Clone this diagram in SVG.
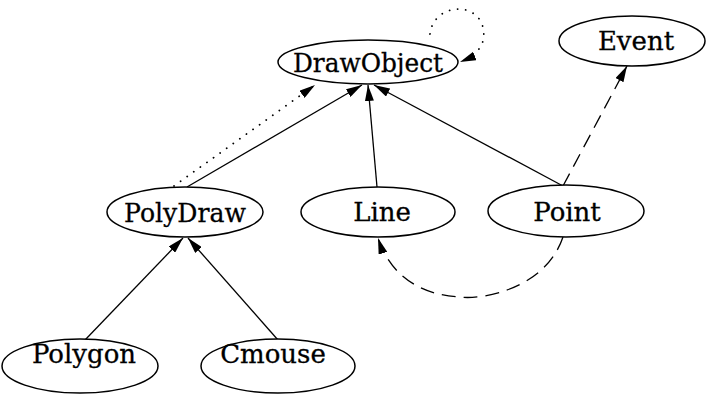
<svg xmlns="http://www.w3.org/2000/svg" width="707" height="395" viewBox="0 0 707 395">
  <style>
    .node ellipse { fill: #fff; stroke: #000; stroke-width: 1.5; }
    .node text { font-family: "DejaVu Serif", "Liberation Serif", serif; font-size: 26px; fill: #000; stroke: #000; stroke-width: 0.3; text-anchor: middle; }
    .edge { fill: none; stroke: #000; stroke-width: 1.3; }
    .dash { stroke-dasharray: 14 8; }
    .dot { stroke-dasharray: 0.1 8; stroke-linecap: round; stroke-width: 1.8; }
  </style>
  <defs>
    <marker id="arrow" viewBox="0 0 16 9" refX="16" refY="4.5" markerWidth="16" markerHeight="9" markerUnits="userSpaceOnUse" orient="auto">
      <path d="M0,0 L16,4.5 L0,9 Z" fill="#000"/>
    </marker>
  </defs>

  <g id="connectors">
    <!-- inheritance edges -->
    <line class="edge" x1="187" y1="187" x2="362" y2="85" marker-end="url(#arrow)"/>
    <line class="edge" x1="377" y1="187" x2="368" y2="85" marker-end="url(#arrow)"/>
    <line class="edge" x1="563" y1="186" x2="374" y2="85" marker-end="url(#arrow)"/>
    <line class="edge" x1="85" y1="340" x2="183" y2="238" marker-end="url(#arrow)"/>
    <line class="edge" x1="278" y1="340" x2="188" y2="238" marker-end="url(#arrow)"/>
    <!-- dotted uses -->
    <line class="edge dot" x1="174" y1="186" x2="315" y2="85" marker-end="url(#arrow)"/>
    <path class="edge dot" d="M430,34 C433,6 472,0 482,24 C487,40 482,53 460,62" marker-end="url(#arrow)"/>
    <!-- dashed references -->
    <line class="edge dash" x1="563" y1="186" x2="627" y2="66" marker-end="url(#arrow)"/>
    <path class="edge dash" d="M563,237 C545,290 480,300 460,297 C420,295 390,275 378,238" marker-end="url(#arrow)"/>
  </g>

  <g id="DrawObject" class="node">
    <ellipse cx="368" cy="62" rx="90" ry="22"/>
    <text x="368" y="72" textLength="150" lengthAdjust="spacingAndGlyphs">DrawObject</text>
  </g>
  <g id="Event" class="node">
    <ellipse cx="632" cy="41" rx="73" ry="25"/>
    <text x="636" y="50">Event</text>
  </g>
  <g id="PolyDraw" class="node">
    <ellipse cx="185" cy="212" rx="78" ry="25"/>
    <text x="185" y="222" textLength="122" lengthAdjust="spacingAndGlyphs">PolyDraw</text>
  </g>
  <g id="Line" class="node">
    <ellipse cx="378" cy="212" rx="77" ry="25"/>
    <text x="382" y="221">Line</text>
  </g>
  <g id="Point" class="node">
    <ellipse cx="566" cy="211" rx="78" ry="26"/>
    <text x="567" y="221">Point</text>
  </g>
  <g id="Polygon" class="node">
    <ellipse cx="80" cy="366" rx="78" ry="27"/>
    <text x="84" y="363">Polygon</text>
  </g>
  <g id="Cmouse" class="node">
    <ellipse cx="278" cy="366" rx="77" ry="27"/>
    <text x="273" y="363">Cmouse</text>
  </g>
</svg>
